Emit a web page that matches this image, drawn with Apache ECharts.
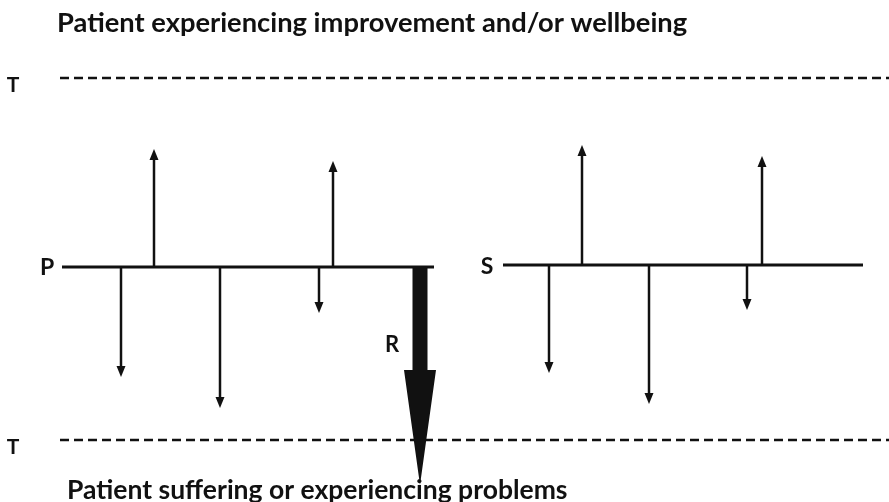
<!DOCTYPE html>
<html>
<head>
<meta charset="utf-8">
<script src="https://cdn.jsdelivr.net/npm/echarts@6/dist/echarts.min.js"></script>
<style>
  html, body { margin: 0; padding: 0; background: #fff; }
  #chart { width: 889px; height: 502px; }
</style>
</head>
<body>
<div id="chart"></div>
<script>
  // positions along the timeline and the size of each event (up = improvement, down = problem)
  const pLine = [62, 434];
  const pBase = 0;
  const pArrowX = [121, 154, 220, 319, 333];
  const pArrowVal = [-110, 118, -141, -46, 106];

  const sLine = [503, 863];
  const sBase = 2;
  const sArrowX = [549, 582, 649, 747, 762];
  const sArrowVal = [-108, 120, -139, -45, 109];

  const rArrow = [420, -218];

  const thresholdTop = 189;
  const thresholdBottom = -173;
  const thresholdX = [60, 889];

  const ink = '#111';

  function arrowData(xs, vals, base) {
    return xs.map(function (x, i) { return [x, base, base + vals[i]]; });
  }

  function renderArrow(params, api) {
    let p0 = api.coord([api.value(0), api.value(1)]);
    let p1 = api.coord([api.value(0), api.value(2)]);
    let dir = p1[1] > p0[1] ? 1 : -1;
    let headLen = 11, headW = 4.5;
    let yh = p1[1] - dir * headLen;
    return {
      type: 'group',
      children: [{
        type: 'line',
        shape: { x1: p0[0], y1: p0[1], x2: p1[0], y2: yh },
        style: { stroke: ink, lineWidth: 2.5 }
      }, {
        type: 'polygon',
        shape: { points: [[p1[0] - headW, yh], [p1[0] + headW, yh], [p1[0], p1[1]]] },
        style: { fill: ink }
      }]
    };
  }

  function renderBigArrow(params, api) {
    let p0 = api.coord([api.value(0), pBase]);
    let p1 = api.coord([api.value(0), api.value(1)]);
    let headLen = 115, shaftW = 15, headW = 16;
    let yh = p1[1] - headLen;
    return {
      type: 'polygon',
      shape: {
        points: [
          [p0[0] - shaftW / 2, p0[1]], [p0[0] + shaftW / 2, p0[1]],
          [p0[0] + shaftW / 2, yh], [p0[0] + headW, yh],
          [p1[0], p1[1]],
          [p0[0] - headW, yh], [p0[0] - shaftW / 2, yh]
        ]
      },
      style: { fill: ink }
    };
  }

  function label(text, x, y, size, align) {
    return {
      type: 'text', x: x, y: y,
      style: {
        text: text, fontSize: size, fill: ink, fontFamily: 'Lato', fontWeight: 'bold',
        align: align || 'center', verticalAlign: 'middle'
      }
    };
  }

  let chart = echarts.init(document.getElementById('chart'));
  let option = {
    animation: false,
    backgroundColor: '#fff',
    grid: { left: 0, right: 0, top: 0, bottom: 0 },
    xAxis: { type: 'value', min: 0, max: 889, show: false },
    yAxis: { type: 'value', min: -235, max: 267, show: false },
    graphic: [
      label('Patient experiencing improvement and/or wellbeing', 57, 23, 27.3, 'left'),
      label('Patient suffering or experiencing problems', 67, 490, 26.5, 'left'),
      label('T', 13, 85, 21),
      label('T', 13, 447, 21),
      label('P', 47, 268, 23),
      label('S', 487, 267, 23),
      label('R', 392, 345, 22)
    ],
    series: [
      {
        type: 'line', symbol: 'none', silent: true,
        data: [[thresholdX[0], thresholdTop], [thresholdX[1], thresholdTop]],
        lineStyle: { color: ink, width: 2.5, type: [9, 5] }
      },
      {
        type: 'line', symbol: 'none', silent: true,
        data: [[thresholdX[0], thresholdBottom], [thresholdX[1], thresholdBottom]],
        lineStyle: { color: ink, width: 2.5, type: [9, 5] }
      },
      {
        type: 'line', symbol: 'none', silent: true,
        data: [[pLine[0], pBase], [pLine[1], pBase]],
        lineStyle: { color: ink, width: 3 }
      },
      {
        type: 'line', symbol: 'none', silent: true,
        data: [[sLine[0], sBase], [sLine[1], sBase]],
        lineStyle: { color: ink, width: 3 }
      },
      { type: 'custom', silent: true, renderItem: renderArrow, data: arrowData(pArrowX, pArrowVal, pBase), z: 3 },
      { type: 'custom', silent: true, renderItem: renderArrow, data: arrowData(sArrowX, sArrowVal, sBase), z: 3 },
      { type: 'custom', silent: true, renderItem: renderBigArrow, data: [rArrow], z: 4 }
    ]
  };
  chart.setOption(option);
</script>
</body>
</html>
